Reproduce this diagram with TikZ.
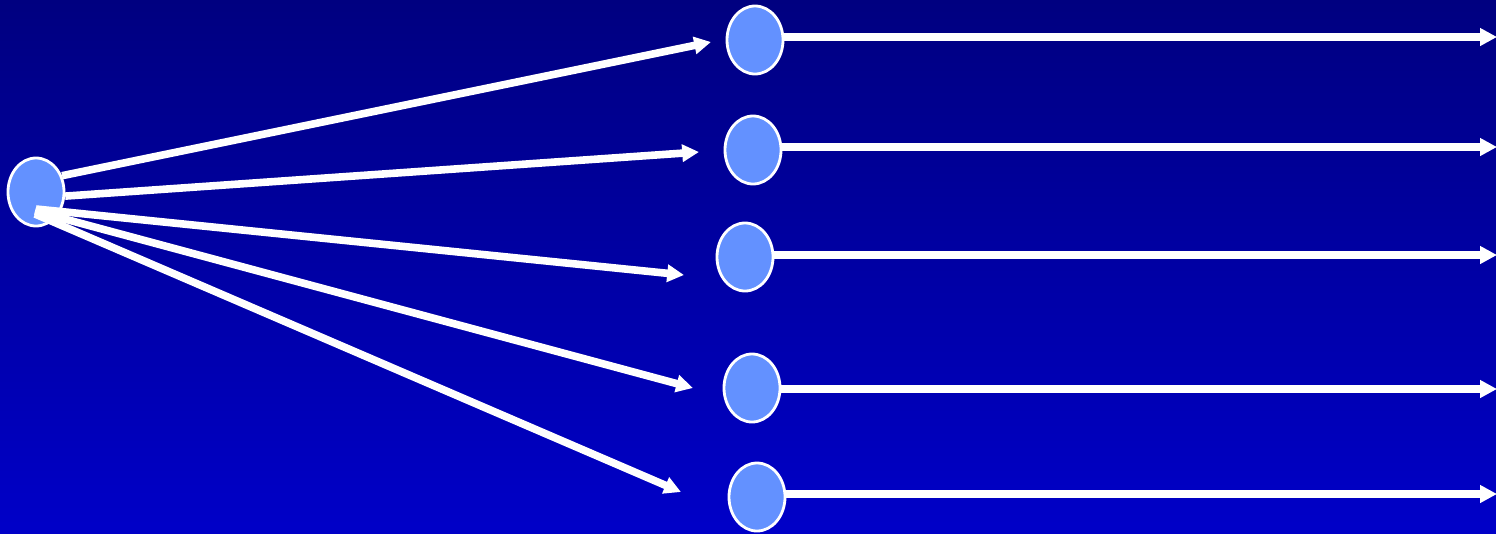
\documentclass[tikz,border=0pt]{standalone}
\usepackage{xcolor}
\usepackage{tikz}
\usetikzlibrary{arrows.meta,shapes.geometric,calc}

\definecolor{bgtop}{RGB}{0,0,128}
\definecolor{bgbot}{RGB}{0,0,200}
\definecolor{dotblue}{RGB}{99,145,255}

\begin{document}
\begin{tikzpicture}[
    x=0.025cm, y=-0.025cm,
    >={Triangle[length=0.42cm, width=0.42cm]},
    dot/.style={ellipse, draw=white, line width=0.07cm, fill=dotblue,
                minimum width=1.4cm, minimum height=1.7cm, inner sep=0pt},
    arrow/.style={->, white, line width=0.19cm},
  ]

  % background
  \fill[top color=bgtop, bottom color=bgbot] (0,0) rectangle (1496,533);
  \useasboundingbox (0,0) rectangle (1496,533);

  \node[dot] (src) at (36,192) {};
  \node[dot] (n1) at (755,40) {};
  \node[dot] (n2) at (753,150) {};
  \node[dot] (n3) at (745,257) {};
  \node[dot] (n4) at (752,388) {};
  \node[dot] (n5) at (757,497) {};

  % free ends
  \coordinate (t1) at (711,42);
  \coordinate (t2) at (699,152);
  \coordinate (t3) at (684,275);
  \coordinate (t4) at (693,388);
  \coordinate (t5) at (681,492);
  \coordinate (e1) at (1497,37);
  \coordinate (e2) at (1497,147);
  \coordinate (e3) at (1497,255);
  \coordinate (e4) at (1497,389);
  \coordinate (e5) at (1497,494);

  \draw[arrow] (src.32) -- (t1);
  \draw[arrow] (src.-8) -- (t2);
  \draw[arrow] ($(src)+(0,17)$) -- (t3);
  \draw[arrow] ($(src)+(-1,19)$) -- (t4);
  \draw[arrow] ($(src)+(-1,22)$) -- (t5);

  \draw[arrow] (n1.east |- e1) -- (e1);
  \draw[arrow] (n2.east |- e2) -- (e2);
  \draw[arrow] (n3.east |- e3) -- (e3);
  \draw[arrow] (n4.east |- e4) -- (e4);
  \draw[arrow] (n5.east |- e5) -- (e5);

\end{tikzpicture}
\end{document}
